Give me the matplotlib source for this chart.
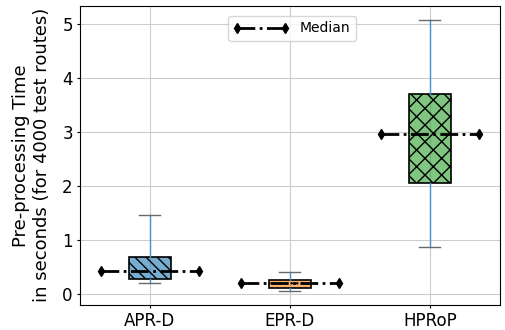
import numpy as np
import matplotlib
matplotlib.use("Agg")
import matplotlib.pyplot as plt

methods = ["APR-D", "EPR-D", "HPRoP"]
whislo = [0.20, 0.06, 0.87]
q1 = [0.29, 0.12, 2.05]
med = [0.43, 0.20, 2.96]
q3 = [0.68, 0.27, 3.71]
whishi = [1.46, 0.41, 5.08]

colors = ["tab:blue", "tab:orange", "tab:green"]
hatches = ["\\\\\\", "...", "xx"]

stats = []
for i, name in enumerate(methods):
    stats.append(dict(label=name, whislo=whislo[i], q1=q1[i], med=med[i],
                      q3=q3[i], whishi=whishi[i], fliers=[]))

fig, ax = plt.subplots(figsize=(5.05, 3.3), dpi=100)

bp = ax.bxp(stats, widths=0.3, patch_artist=True,
            whiskerprops=dict(color="#4a90cc", linewidth=1),
            capprops=dict(color="dimgray", linewidth=1),
            medianprops=dict(linewidth=0))
for patch, c, h in zip(bp["boxes"], colors, hatches):
    patch.set_facecolor(matplotlib.colors.to_rgba(c, 0.6))
    patch.set_edgecolor("black")
    patch.set_hatch(h)
    patch.set_linewidth(1.2)

# median marker line across each box
for i, m in enumerate(med):
    x = i + 1
    ax.plot([x - 0.35, x + 0.35], [m, m], color="black", linestyle="-.",
            linewidth=2, marker="d", markersize=5.5, markeredgewidth=1,
            label="Median" if i == 0 else None, zorder=5)

ax.set_xlim(0.5, 3.5)
ax.grid(True, color="#cccccc", linewidth=0.8)
ax.set_axisbelow(True)
ax.tick_params(labelsize=12, length=2.5, pad=2.5)
ax.set_ylabel("Pre-processing Time\nin seconds (for 4000 test routes)",
              fontsize=13, labelpad=8)
ax.legend(loc="upper center", numpoints=2, fontsize=10, handlelength=4,
          bbox_to_anchor=(0.505, 0.99))

fig.subplots_adjust(left=0.158, right=0.99, top=0.982, bottom=0.077)
fig.savefig("out.png")
